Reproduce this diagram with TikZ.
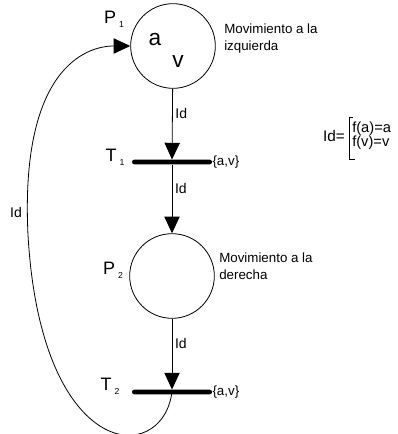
\documentclass[tikz,border=0pt]{standalone}
\usepackage{fontspec}
\setmainfont{Liberation Sans}
\usetikzlibrary{arrows.meta}

\newcommand*{\lowidx}[1]{\,\raisebox{-0.45ex}{\fontsize{6.5}{6.5}\selectfont #1}}

\begin{document}
\begin{tikzpicture}
[
	x=0.75pt, y=-0.75pt,
	place/.style={circle,draw,line width=0.6pt,inner sep=0pt,minimum size=63.5pt},
	transition/.style={rectangle,fill,rounded corners=1.6pt,inner sep=0pt,minimum width=60pt,minimum height=3.4pt},
	arc/.style={line width=0.6pt,-{Triangle[length=12.5pt,width=11.5pt]}},
	lbl/.style={inner sep=0pt,font=\fontsize{13.5}{14}\selectfont},
	token/.style={inner sep=0pt,font=\fontsize{17}{17}\selectfont},
	inscr/.style={inner sep=0pt,font=\fontsize{10.5}{11}\selectfont},
	note/.style={inner sep=0pt,align=left,font=\fontsize{10}{12.75}\selectfont}
]

	\useasboundingbox (0,0) rectangle (398,434);

	% places and transitions
	\node[place] (p1) at (173,46) {};
	\node[transition] (t1) at (172,162) {};
	\node[place] (p2) at (172,276) {};
	\node[transition] (t2) at (172,392) {};

	% tokens
	\node[token] (ta) at (155,40) {a};
	\node[token] (tv) at (178,62) {v};

	% names
	\node[lbl] (np1) at (114,19) {P\lowidx{1}};
	\node[lbl] (nt1) at (115,157) {T\lowidx{1}};
	\node[lbl] (np2) at (113,270) {P\lowidx{2}};
	\node[lbl] (nt2) at (110,386) {T\lowidx{2}};

	\node[note,anchor=west] (d1) at (224,39) {Movimiento a la\\izquierda};
	\node[note,anchor=west] (d2) at (219,266) {Movimiento a la\\derecha};

	\node[inscr,anchor=west,font=\fontsize{10}{11}\selectfont] (c1) at (t1.east) {\{a,v\}};
	\node[inscr,anchor=west,font=\fontsize{10}{11}\selectfont] (c2) at (t2.east) {\{a,v\}};

	% arcs
	\draw[arc] (p1) -- (t1) node[pos=0.35,right=2pt,inscr] {Id};
	\draw[arc] (t1) -- (p2) node[pos=0.35,right=2pt,inscr] {Id};
	\draw[arc] (p2) -- (t2) node[pos=0.35,right=2pt,inscr] {Id};
	\draw[arc] (t2.center) .. controls (162,467) and (41,462) .. (28,235)
		.. controls (20,70) and (85,46) .. (p1.west);
	\node[inscr] (lid) at (16,212) {Id};

	% arc function
	\node[inner sep=0pt,font=\fontsize{11.5}{11.5}\selectfont] (fid) at (334,136) {Id=};
	\draw[line width=0.6pt] (353,117) -- (349,117) -- (349,159) -- (355,159);
	\node[note,anchor=west,font=\fontsize{11}{10.5}\selectfont] (fav) at (352,136) {f(a)=a\\f(v)=v};

\end{tikzpicture}
\end{document}
